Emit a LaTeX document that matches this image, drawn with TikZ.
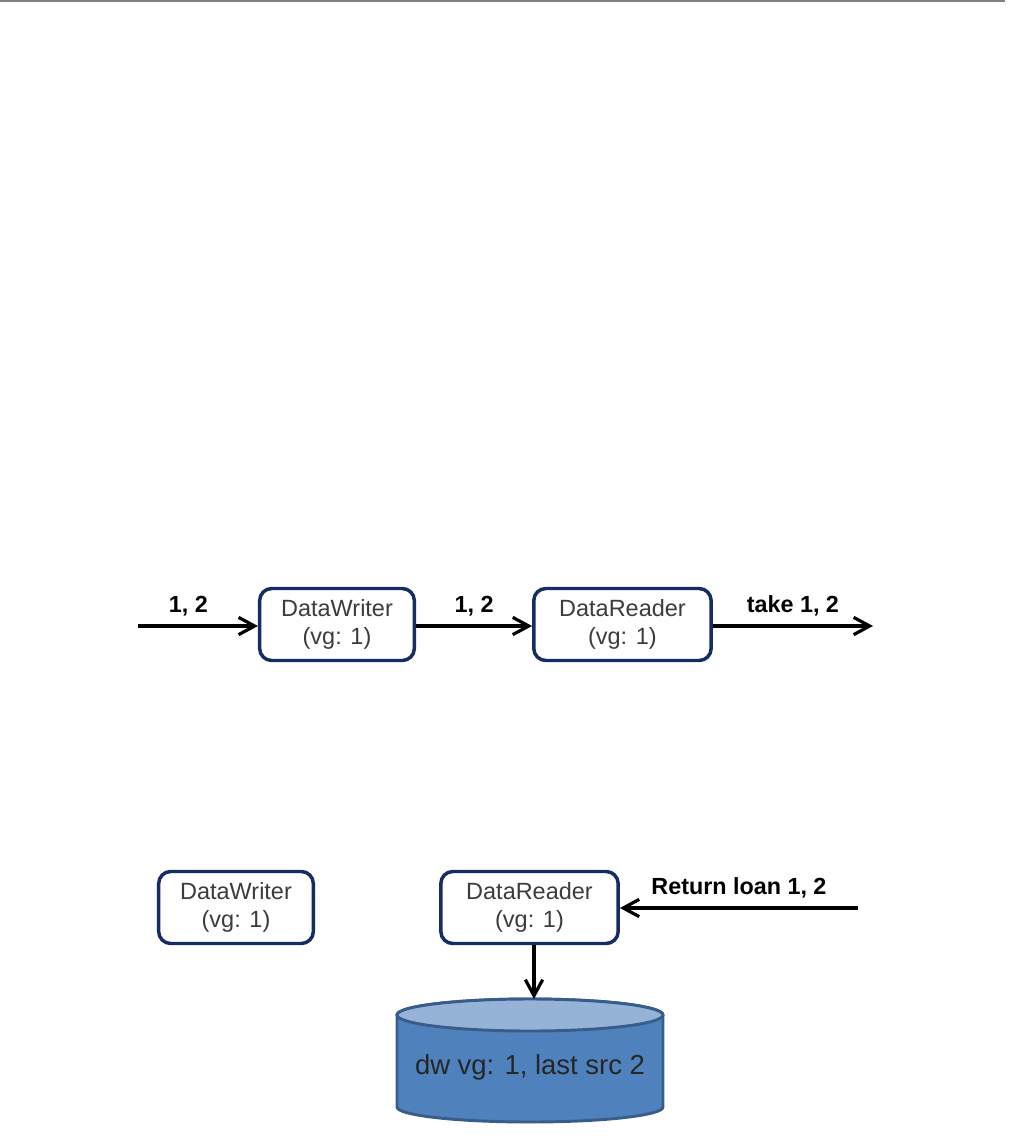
\documentclass[tikz,border=0pt]{standalone}
\usepackage{fontspec}
\setmainfont{Liberation Sans}
\usetikzlibrary{arrows.meta}
\usetikzlibrary{positioning}
\definecolor{boxBlue}{RGB}{22,45,100}
\definecolor{boxText}{RGB}{60,60,60}
\definecolor{dbBody}{RGB}{79,129,189}
\definecolor{dbTop}{RGB}{149,179,215}
\definecolor{dbLine}{RGB}{56,93,138}
\definecolor{ruleGray}{RGB}{128,128,128}

\begin{document}
\begin{tikzpicture}[x=0.75pt,y=-0.75pt,->,>={Straight Barb[length=12pt,width=13pt]},
  line width=2.4pt,
  box node/.style={draw=boxBlue,line width=2.6pt,rounded corners=9pt,fill=white,
  align=center,text=boxText,font=\fontsize{17.6}{20.5}\selectfont,minimum height=54pt,inner sep=0pt},
  writer node/.style={box node,minimum width=116pt},
  reader node/.style={box node,minimum width=133pt},
  msg/.style={font=\fontsize{17.5}{20}\selectfont\bfseries,above=9pt,inner sep=0pt,text depth=0pt},
  db part/.style={-,fill=#1,draw=dbLine,line width=2.2pt}]
\useasboundingbox (0,0) rectangle (1010,1139);
\draw[-,ruleGray,line width=1.5pt] (0,1) -- (1005,1);
%------------------------------------------------------------------------
% First step: write and take
%------------------------------------------------------------------------
\node[writer node] (W1) at (337,624.5) {DataWriter\\(vg: 1)};
\node[reader node] (R1) [right=87pt of W1] {DataReader\\(vg: 1)};
\coordinate (in) at (138,626);
\coordinate (out) at (873,626);
\draw (in) -- node[msg,pos=0.42]{1, 2} (in -| W1.west);
\draw (in -| W1.east) -- node[msg]{1, 2} (in -| R1.west);
\draw (in -| R1.east) -- node[msg]{take 1, 2} (out);
%------------------------------------------------------------------------
% Second step: return the loan
%------------------------------------------------------------------------
\node[writer node] (W2) at (236,907.5) {DataWriter\\(vg: 1)};
\node[reader node] (R2) at (529.5,907.5) {DataReader\\(vg: 1)};
\coordinate (ret) at (858,908);
\draw (ret) -- node[msg]{Return loan 1, 2} (ret -| R2.east);
% the store
\draw[db part=dbBody] (397,1015) -- (397,1107) arc[start angle=180,end angle=0,x radius=133,y radius=15]
  -- (663,1015) arc[start angle=0,end angle=-180,x radius=133,y radius=16] -- cycle;
\draw[db part=dbTop] (530,1015) ellipse[x radius=133,y radius=16];
\node[font=\fontsize{20.6}{24}\selectfont,text=black!85] (db) at (530,1067) {dw vg: 1, last src 2};
\coordinate (dbtop) at (534,999);
\draw (R2.south -| dbtop) -- (dbtop);
\end{tikzpicture}
\end{document}
